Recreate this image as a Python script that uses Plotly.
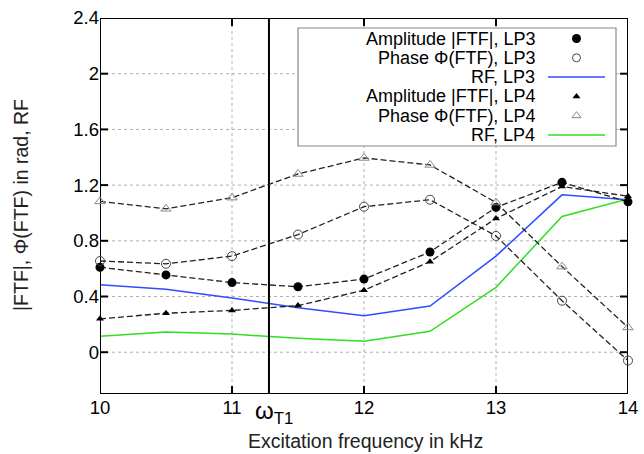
import plotly.graph_objects as go

freq = [10, 10.5, 11, 11.5, 12, 12.5, 13, 13.5, 14]
amp_lp3 = [0.61, 0.555, 0.50, 0.47, 0.525, 0.72, 1.04, 1.22, 1.08]
phase_lp3 = [0.655, 0.635, 0.69, 0.845, 1.045, 1.095, 0.835, 0.37, -0.06]
rf_lp3 = [0.485, 0.452, 0.39, 0.32, 0.262, 0.332, 0.69, 1.13, 1.095]
amp_lp4 = [0.24, 0.28, 0.30, 0.335, 0.445, 0.65, 0.96, 1.19, 1.12]
phase_lp4 = [1.083, 1.03, 1.11, 1.28, 1.395, 1.345, 1.075, 0.615, 0.178]
rf_lp4 = [0.114, 0.145, 0.13, 0.10, 0.078, 0.15, 0.466, 0.975, 1.10]
omega_t1 = 11.28

x_ticks = [10, 11, 12, 13, 14]
y_ticks = [0, 0.4, 0.8, 1.2, 1.6, 2.0, 2.4]
y_ticktext = ["0", "0.4", "0.8", "1.2", "1.6", "2", "2.4"]

legend_labels = ["Amplitude |FTF|, LP3", "Phase Φ(FTF), LP3", "RF, LP3",
                 "Amplitude |FTF|, LP4", "Phase Φ(FTF), LP4", "RF, LP4"]
x_title = "Excitation frequency in kHz"
y_title = "|FTF|, Φ(FTF) in rad, RF"

FONT = "Liberation Sans, Arial, sans-serif"
dash_line = dict(color="#222222", width=1.3, dash="6px,3px")
BLUE = "#2f4cff"
GREEN = "#33dd22"
GRID = "#b0b0b0"

X_RANGE = [10, 14]
Y_RANGE = [-0.3, 2.4]
# plot area in pixels
PL, PR, PT, PB = 100, 628, 18, 394
TICKLEN = 8
DX = TICKLEN / (PR - PL) * (X_RANGE[1] - X_RANGE[0])
DY = TICKLEN / (PB - PT) * (Y_RANGE[1] - Y_RANGE[0])


def px_to_x(px):
    return X_RANGE[0] + (px - PL) / (PR - PL) * (X_RANGE[1] - X_RANGE[0])


def px_to_y(py):
    return Y_RANGE[1] - (py - PT) / (PB - PT) * (Y_RANGE[1] - Y_RANGE[0])


def paper_x(px):
    return (px - PL) / (PR - PL)


def paper_y(py):
    return (PB - py) / (PB - PT)


def seg(xs, ys, color="black", width=2):
    fig.add_trace(go.Scatter(x=xs, y=ys, mode="lines", line=dict(color=color, width=width),
                             showlegend=False, hoverinfo="skip", cliponaxis=False))


fig = go.Figure()

# ---- dotted grid drawn as shapes (below traces) at the interior ticks
for xv in x_ticks[1:-1]:
    fig.add_shape(type="line", xref="x", yref="paper", x0=xv, x1=xv, y0=0, y1=1,
                  line=dict(color=GRID, width=1, dash="dot"), layer="below")
for yv in y_ticks[:-1]:
    fig.add_shape(type="line", xref="paper", yref="y", x0=0, x1=1, y0=yv, y1=yv,
                  line=dict(color=GRID, width=1, dash="dot"), layer="below")

# legend box covering the grid, below traces
fig.add_shape(type="rect", xref="x", yref="y", x0=px_to_x(298), x1=px_to_x(616),
              y0=px_to_y(146), y1=px_to_y(28),
              line=dict(color="#888888", width=1.2), fillcolor="white", layer="below")

# RF lines
fig.add_trace(go.Scatter(x=freq, y=rf_lp3, mode="lines",
                         line=dict(color=BLUE, width=1.5), showlegend=False))
fig.add_trace(go.Scatter(x=freq, y=rf_lp4, mode="lines",
                         line=dict(color=GREEN, width=1.5), showlegend=False))

# ---- frame and inside tick marks on all four sides, one segment per trace
seg([X_RANGE[0], X_RANGE[1]], [Y_RANGE[0], Y_RANGE[0]])
seg([X_RANGE[0], X_RANGE[1]], [Y_RANGE[1], Y_RANGE[1]])
seg([X_RANGE[0], X_RANGE[0]], [Y_RANGE[0], Y_RANGE[1]])
seg([X_RANGE[1], X_RANGE[1]], [Y_RANGE[0], Y_RANGE[1]])
for xv in x_ticks[1:-1]:
    seg([xv, xv], [Y_RANGE[0], Y_RANGE[0] + DY])
    seg([xv, xv], [Y_RANGE[1], Y_RANGE[1] - DY])
for yv in y_ticks[:-1]:
    seg([X_RANGE[0], X_RANGE[0] + DX], [yv, yv])
    seg([X_RANGE[1], X_RANGE[1] - DX], [yv, yv])

# omega_T1 vertical line
seg([omega_t1, omega_t1], Y_RANGE)

# point series with dashed connecting lines
series = [
    (amp_lp3, dict(symbol="circle", size=9, color="black", line=dict(width=0))),
    (phase_lp3, dict(symbol="circle-open", size=9, color="#444444", line=dict(width=1))),
    (amp_lp4, dict(symbol="triangle-up", size=7, color="black", line=dict(width=0))),
    (phase_lp4, dict(symbol="triangle-up-open", size=9, color="#888888", line=dict(width=1))),
]
for ys, mk in series:
    fig.add_trace(go.Scatter(x=freq, y=ys, mode="lines+markers", line=dash_line,
                             marker=mk, showlegend=False, cliponaxis=False))

# ---- custom legend (symbols on the right, gnuplot-style)
row_py = [38.5, 57.8, 77.1, 96.4, 115.7, 135.0]
sym_px = 576.5
line_px = [548, 605]
legend_marks = [
    dict(symbol="circle", size=9, color="black"),
    dict(symbol="circle-open", size=8, color="#444444", line=dict(width=1)),
    None,
    dict(symbol="triangle-up", size=7, color="black"),
    dict(symbol="triangle-up-open", size=8, color="#888888", line=dict(width=1)),
    None,
]
legend_line_colors = [None, None, BLUE, None, None, GREEN]
for ry, mk, lc in zip(row_py, legend_marks, legend_line_colors):
    if mk is not None:
        fig.add_trace(go.Scatter(x=[px_to_x(sym_px)], y=[px_to_y(ry)], mode="markers",
                                 marker=mk, showlegend=False, hoverinfo="skip"))
    else:
        seg([px_to_x(p) for p in line_px], [px_to_y(ry)] * 2, color=lc, width=1.5)

for ry, lab in zip(row_py, legend_labels):
    fig.add_annotation(x=px_to_x(537), y=px_to_y(ry), xref="x", yref="y", text=lab,
                       showarrow=False, xanchor="right", yanchor="middle",
                       font=dict(family=FONT, size=18, color="black"))

fig.add_annotation(x=omega_t1, y=0, xref="x", yref="paper", yshift=-1,
                   text="ω<sub>T1</sub>", showarrow=False, xanchor="left", yanchor="top",
                   xshift=-16, font=dict(family=FONT, size=24, color="black"))

# axis titles
fig.add_annotation(x=paper_x(365), y=paper_y(441), xref="paper", yref="paper",
                   text=x_title, showarrow=False, xanchor="center", yanchor="middle",
                   font=dict(family=FONT, size=19.5, color="#222222"))
fig.add_annotation(x=paper_x(21), y=paper_y(205), xref="paper", yref="paper",
                   text=y_title, showarrow=False, xanchor="center", yanchor="middle",
                   textangle=-90, font=dict(family=FONT, size=19.5, color="#222222"))

axis_common = dict(showline=False, ticks="", showgrid=False, zeroline=False,
                   tickfont=dict(family=FONT, size=18.5, color="black"))

fig.update_layout(
    width=644, height=454,
    margin=dict(l=PL, r=644 - PR, t=PT, b=454 - PB, autoexpand=False),
    paper_bgcolor="white", plot_bgcolor="white",
    xaxis=dict(range=X_RANGE, tickvals=x_ticks, **axis_common),
    yaxis=dict(range=Y_RANGE, tickvals=y_ticks, ticktext=y_ticktext, **axis_common),
    showlegend=False,
)

fig.write_html("out.html")
